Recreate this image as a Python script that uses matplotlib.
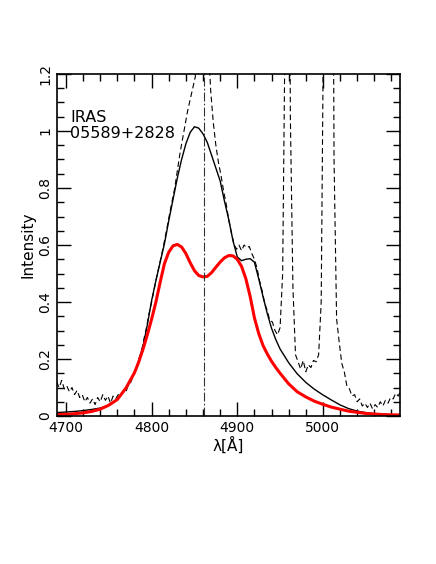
import numpy as np
import matplotlib
matplotlib.use("Agg")
import matplotlib.pyplot as plt
from matplotlib.ticker import MultipleLocator, FormatStrFormatter

# observed spectrum (dashed), sampled every 3 A starting at 4689 A
obs_start = 4689
obs_step = 3
obs_flux = [
    0.120, 0.100, 0.125, 0.095, 0.105, 0.085, 0.100, 0.075, 0.090, 0.065,
    0.075, 0.050, 0.065, 0.045, 0.060, 0.040, 0.065, 0.050, 0.075, 0.055,
    0.070, 0.045, 0.070, 0.060, 0.075, 0.070, 0.090, 0.085, 0.110, 0.120,
    0.150, 0.165, 0.200, 0.225, 0.270, 0.310, 0.360, 0.400, 0.445, 0.490,
    0.530, 0.570, 0.615, 0.660, 0.710, 0.755, 0.800, 0.860, 0.920, 0.970,
    1.020, 1.070, 1.110, 1.150, 1.190, 1.350, 2.200, 3.200, 2.200, 1.320,
    1.140, 1.030, 0.950, 0.890, 0.845, 0.790, 0.745, 0.690, 0.645, 0.605,
    0.585, 0.600, 0.580, 0.600, 0.590, 0.595, 0.570, 0.550, 0.520, 0.475,
    0.440, 0.395, 0.370, 0.335, 0.330, 0.300, 0.285, 0.310, 0.500, 1.400,
    3.000, 1.050, 0.450, 0.215, 0.190, 0.165, 0.195, 0.155, 0.180, 0.170,
    0.195, 0.190, 0.215, 0.400, 1.500, 3.500, 5.000, 3.000, 0.900, 0.340,
    0.260, 0.185, 0.155, 0.105, 0.095, 0.070, 0.075, 0.050, 0.060, 0.035,
    0.045, 0.030, 0.045, 0.025, 0.040, 0.030, 0.050, 0.035, 0.055, 0.045,
    0.065, 0.060, 0.080, 0.070, 0.090,
]
obs_lam = obs_start + obs_step * np.arange(len(obs_flux))

# model profiles: total broad fit (black) and double-peaked component (red)
model_lam = [4689, 4700, 4710, 4720, 4730, 4740, 4750, 4760, 4770, 4780,
             4785, 4790, 4795, 4800, 4805, 4810, 4815, 4820, 4825, 4830,
             4835, 4840, 4845, 4850, 4855, 4860, 4865, 4870, 4875, 4880,
             4885, 4890, 4895, 4900, 4905, 4910, 4915, 4920, 4925, 4930,
             4935, 4940, 4945, 4950, 4960, 4970, 4980, 4990, 5000, 5010,
             5020, 5030, 5040, 5050, 5060, 5070, 5080, 5090]
total_model = [0.012, 0.014, 0.016, 0.019, 0.023, 0.028, 0.037, 0.058, 0.095, 0.150,
               0.195, 0.245, 0.320, 0.405, 0.475, 0.540, 0.605, 0.685, 0.760, 0.835,
               0.900, 0.955, 0.995, 1.015, 1.010, 0.990, 0.960, 0.915, 0.870, 0.825,
               0.755, 0.690, 0.615, 0.558, 0.545, 0.550, 0.552, 0.540, 0.482, 0.420,
               0.360, 0.308, 0.268, 0.235, 0.187, 0.148, 0.118, 0.094, 0.074, 0.056,
               0.039, 0.026, 0.017, 0.012, 0.008, 0.006, 0.005, 0.004]
disk_model = [0.005, 0.006, 0.008, 0.011, 0.016, 0.024, 0.038, 0.058, 0.098, 0.152,
              0.190, 0.235, 0.285, 0.340, 0.400, 0.470, 0.535, 0.575, 0.597, 0.602,
              0.593, 0.570, 0.538, 0.510, 0.493, 0.488, 0.490, 0.503, 0.522, 0.540,
              0.555, 0.563, 0.562, 0.550, 0.525, 0.482, 0.420, 0.345, 0.290, 0.248,
              0.218, 0.192, 0.170, 0.150, 0.113, 0.085, 0.067, 0.052, 0.041, 0.031,
              0.024, 0.017, 0.013, 0.009, 0.007, 0.005, 0.004, 0.004]

hbeta = 4861
label = "IRAS\n05589+2828"

plt.rcParams['font.family'] = ['DejaVu Sans']
fig = plt.figure(figsize=(4.36, 5.64), dpi=100)
ax = fig.add_axes([0.1307, 0.2624, 0.7867, 0.6064])

ax.plot(obs_lam, obs_flux, color='black', lw=0.8, ls=(0, (5, 3)))
ax.plot(model_lam, total_model, color='black', lw=1.0)
ax.plot(model_lam, disk_model, color='red', lw=2.2)
ax.axvline(hbeta, color='#333333', lw=0.8, ls=(0, (8, 2, 1.5, 2)))

ax.text(4705, 0.965, label, fontsize=11.5, ha='left', va='bottom', linespacing=1.1)

ax.set_xlim(4689.5, 5090)
ax.set_ylim(0, 1.2)
ax.xaxis.set_major_locator(MultipleLocator(100))
ax.xaxis.set_minor_locator(MultipleLocator(20))
ax.yaxis.set_major_locator(MultipleLocator(0.2))
ax.yaxis.set_minor_locator(MultipleLocator(0.05))
ax.yaxis.set_major_formatter(FormatStrFormatter('%g'))
ax.tick_params(which='both', direction='in', top=True, right=True, width=1.0,
               labelsize=10)
ax.tick_params(which='major', length=10)
ax.tick_params(which='minor', length=5)
plt.setp(ax.get_yticklabels(), rotation=90, va='center')
for s in ax.spines.values():
    s.set_linewidth(1.2)

ax.set_xlabel('λ[Å]', fontsize=11, labelpad=1)
ax.set_ylabel('Intensity', fontsize=11, labelpad=2)

fig.savefig('out.png', dpi=100)
